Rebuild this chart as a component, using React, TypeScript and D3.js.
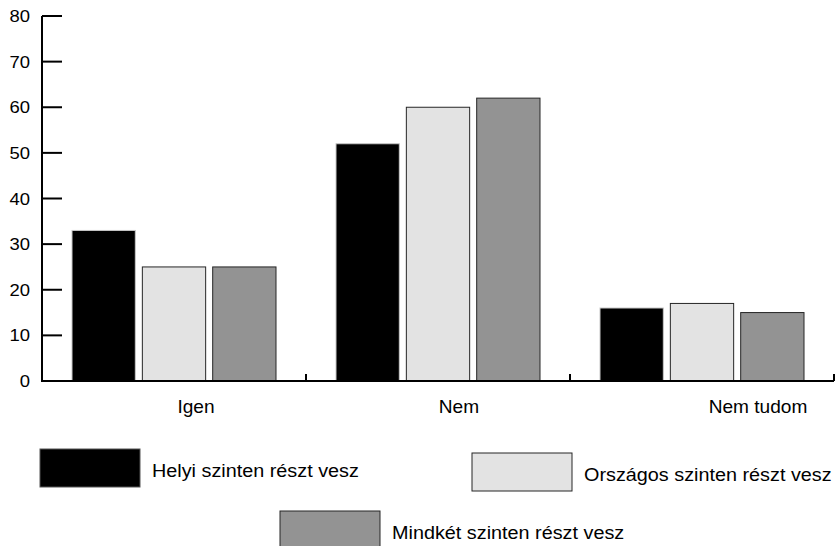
import React from 'react';
import * as d3 from 'd3';

// data
const categories = ['Igen', 'Nem', 'Nem tudom'];
const seriesNames = ['Helyi szinten részt vesz', 'Országos szinten részt vesz', 'Mindkét szinten részt vesz'];
const helyi = [33, 52, 16];
const orszagos = [25, 60, 17];
const mindket = [25, 62, 15];
const yTicks = [0, 10, 20, 30, 40, 50, 60, 70, 80];

const W = 835;
const H = 546;
const fills = ['#000000', '#e3e3e3', '#939393'];
const strokes = ['#c8c8c8', '#262626', '#262626'];
const labelShift = [22, 21, 56];
const legendPos = [
    { x: 40, y: 449 },
    { x: 472, y: 453 },
    { x: 280, y: 511 },
];
const FONT = '"Liberation Sans", Arial, sans-serif';

// text with a slight horizontal stretch, like the original export
const Label: React.FC<{ x: number; y: number; size: number; sx: number; anchor?: string; children: React.ReactNode }> = ({
    x, y, size, sx, anchor = 'start', children,
}) => (
    <text transform={`translate(${x},${y}) scale(${sx},1)`} fontSize={size} textAnchor={anchor} fill="#000">
        {children}
    </text>
);

const App: React.FC = () => {
    const values = [helyi, orszagos, mindket];

    const margin = { left: 42, right: 1, top: 16, bottom: 165 };

    const x0 = d3.scaleBand<string>()
        .domain(categories)
        .range([margin.left, W - margin.right])
        .padding(0);

    const x1 = d3.scaleBand<string>()
        .domain(seriesNames)
        .range([30, x0.bandwidth() - 30])
        .paddingInner(0.1)
        .paddingOuter(0);

    const y = d3.scaleLinear()
        .domain([0, 80])
        .range([H - margin.bottom, margin.top]);

    const y0 = y(0);

    return (
        <div style={{ position: 'absolute', left: 0, top: 0 }}>
            <svg width={W} height={H} style={{ display: 'block' }} fontFamily={FONT}>
                {/* bars */}
                {categories.map((c, ci) => (
                    <g key={c} transform={`translate(${x0(c)},0)`}>
                        {seriesNames.map((s, si) => {
                            const v = values[si][ci];
                            return (
                                <rect
                                    key={s}
                                    x={x1(s)}
                                    y={y(v)}
                                    width={x1.bandwidth()}
                                    height={y0 - y(v)}
                                    fill={fills[si]}
                                    stroke={strokes[si]}
                                    strokeWidth={1}
                                />
                            );
                        })}
                    </g>
                ))}

                {/* y axis */}
                <line x1={margin.left} x2={margin.left} y1={y(80)} y2={y0} stroke="#000" strokeWidth={2} />
                {yTicks.map(t => (
                    <g key={t}>
                        <line x1={margin.left} x2={margin.left + 20} y1={y(t)} y2={y(t)} stroke="#000" strokeWidth={2} />
                        <Label x={30} y={y(t) + 6} size={16.5} sx={1.12} anchor="end">{t}</Label>
                    </g>
                ))}

                {/* x axis */}
                <line x1={margin.left - 1} x2={W - margin.right} y1={y0} y2={y0} stroke="#000" strokeWidth={2} />
                {categories.map((c, ci) => (
                    <g key={c}>
                        <line
                            x1={(x0(c) as number) + x0.bandwidth()}
                            x2={(x0(c) as number) + x0.bandwidth()}
                            y1={y0}
                            y2={y0 - 7}
                            stroke="#000"
                            strokeWidth={2}
                        />
                        <Label
                            x={(x0(c) as number) + x0.bandwidth() / 2 + labelShift[ci]}
                            y={y0 + 32}
                            size={17.7}
                            sx={1.08}
                            anchor="middle"
                        >
                            {c}
                        </Label>
                    </g>
                ))}

                {/* legend */}
                {seriesNames.map((s, si) => (
                    <g key={s} transform={`translate(${legendPos[si].x},${legendPos[si].y})`}>
                        <rect x={0} y={0} width={100} height={38} fill={fills[si]} stroke={si === 0 ? '#555' : '#262626'} strokeWidth={1} />
                        <Label x={112} y={28} size={18.7} sx={1.06}>{s}</Label>
                    </g>
                ))}
            </svg>
        </div>
    );
};

export default App;
